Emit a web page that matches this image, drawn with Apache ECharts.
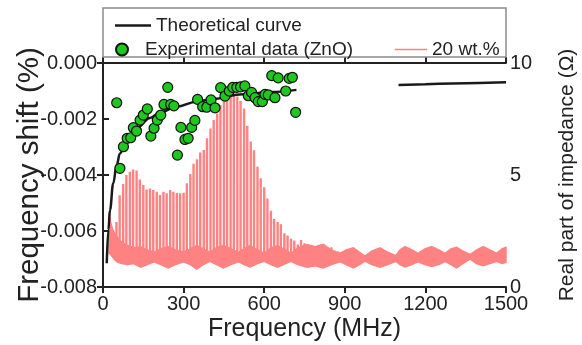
<!DOCTYPE html>
<html>
<head>
<meta charset="utf-8">
<script src="https://cdn.jsdelivr.net/npm/echarts@6/dist/echarts.min.js"></script>
<style>html,body{margin:0;padding:0;background:#fff}#c{width:582px;height:345px}</style>
</head>
<body>
<div id="c"></div>
<script>
// Theoretical curve (left axis, %)
const theoFreq1 = [14, 20, 26, 38, 51, 63, 88, 125, 175, 212, 274, 349, 409, 521, 620, 720];
const theoVal1 = [-0.00715, -0.00596, -0.00525, -0.0043, -0.00364, -0.00323, -0.00275, -0.00233, -0.00196, -0.00177, -0.00156, -0.00138, -0.00128, -0.00112, -0.00104, -0.00096];
const theoFreq2 = [1100, 1200, 1300, 1400, 1500];
const theoVal2 = [-0.00079, -0.00076, -0.00073, -0.00071, -0.00069];

// Experimental data (ZnO)
const expFreq = [63, 51, 76, 90, 103, 113, 125, 138, 150, 165, 178, 190, 202, 215, 227, 241, 252, 264, 277, 290, 305, 317, 330, 342, 352, 371, 386, 402, 417, 438, 454, 470, 483, 498, 512, 528, 541, 553, 566, 578, 593, 603, 615, 640, 628, 652, 680, 693, 705, 717];
const expVal = [-0.00376, -0.00142, -0.00299, -0.00269, -0.00267, -0.00231, -0.00243, -0.00204, -0.00186, -0.00164, -0.00261, -0.00233, -0.00204, -0.00186, -0.00148, -0.00087, -0.00148, -0.00153, -0.00329, -0.00230, -0.00273, -0.00269, -0.00230, -0.00205, -0.00130, -0.00156, -0.00158, -0.00132, -0.00160, -0.00088, -0.00118, -0.00100, -0.00087, -0.00087, -0.00085, -0.00082, -0.00117, -0.00105, -0.00124, -0.00138, -0.00138, -0.00112, -0.00114, -0.00124, -0.00045, -0.00053, -0.00100, -0.00055, -0.00051, -0.00176];

// 20 wt.% real part of impedance (right axis, Ohm): resonance spikes
const spikeFreq = [50,62,75,87,100,112,125,137,150,162,175,187,200,212,225,237,250,262,275,287,300,312,325,337,350,362,375,387,400,412,425,437,450,462,475,487,500,512,525,537,550,562,575,587,600,612,625,637,650,662,675,687,700,712,725,737,750,762,775,787,800,812,825,837,850,862,875,887];
const spikePeak = [2.9,4.1,4.6,5.0,5.15,5.25,5.2,4.8,4.55,4.35,4.4,4.33,4.25,4.11,4.25,4.18,4.33,4.25,4.2,4.18,4.21,4.63,5.04,5.5,5.7,6.0,6.12,6.64,7.08,7.46,7.75,8.12,8.35,8.42,8.5,8.53,8.5,8.3,7.97,7.2,6.5,6.1,5.37,4.85,4.45,3.95,3.4,3.05,2.9,2.8,2.4,2.3,2.15,2.08,1.9,2.1,1.95,1.77,1.78,1.73,1.73,1.9,1.73,1.68,1.77,1.62,1.58,1.55];
const spikeBase = 1.3;

// 20 wt.% noisy background band (lower / upper envelope)
const bandFreq = [23,28,35,45,55,70,90,115,140,165,190,215,243,270,300,325,349,373,398,423,448,476,504,525,547,575,600,625,650,680,700,725,760,790,820,850,882,905,932,955,975,1000,1031,1060,1090,1105,1124,1150,1173,1198,1223,1250,1273,1295,1316,1340,1366,1390,1415,1440,1465,1485,1500];
const bandLow = [1.5,1.45,1.35,1.2,1.1,1.05,1.0,1.05,0.88,1.0,1.13,1.0,0.85,1.0,1.13,1.0,0.8,1.0,1.15,1.0,0.85,1.0,1.13,1.0,0.9,1.05,1.15,1.0,0.88,1.05,1.15,1.0,0.88,0.95,0.85,1.0,1.13,1.0,0.85,1.0,1.16,1.0,0.88,1.0,1.15,1.0,0.9,1.0,1.13,1.0,0.92,1.0,1.15,1.0,0.85,1.05,1.25,1.05,0.95,1.05,1.15,1.05,1.1];
const bandHigh = [3.3,2.9,2.6,2.35,2.2,2.0,1.85,1.75,1.8,1.65,1.55,1.7,1.8,1.65,1.55,1.7,1.85,1.7,1.55,1.75,1.85,1.7,1.55,1.7,1.85,1.65,1.5,1.75,1.85,1.65,1.5,1.75,1.9,1.8,1.9,1.65,1.5,1.65,1.75,1.55,1.38,1.6,1.75,1.55,1.4,1.65,1.8,1.65,1.5,1.7,1.8,1.65,1.5,1.7,1.77,1.6,1.45,1.65,1.8,1.65,1.5,1.7,1.77];

const xTicks = [0, 300, 600, 900, 1200, 1500];

const FONT = 'Liberation Sans, Arial, sans-serif';
const TXT = '#222';
const PINK = '#ff8282';

const spikeData = [];
spikeFreq.forEach((f, i) => {
  spikeData.push([f, spikeBase], [f, spikePeak[i]], [f, spikeBase]);
});

const chart = echarts.init(document.getElementById('c'), null, {renderer: 'canvas'});
const axisLine = {show: true, lineStyle: {color: TXT, width: 2}};
const axisTick = {show: true, inside: true, length: 6, lineStyle: {color: TXT, width: 2}};

chart.setOption({
  animation: false,
  backgroundColor: '#fff',
  textStyle: {fontFamily: FONT},
  grid: {left: 103, right: 76, top: 63, bottom: 58, containLabel: false, outerBoundsMode: 'none'},
  graphic: [{
    type: 'rect', z: 100,
    shape: {x: 103, y: 8, width: 403, height: 49},
    style: {fill: 'rgba(0,0,0,0)', stroke: '#8c8c8c', lineWidth: 1.5}
  }],
  legend: [
    {data: ['Theoretical curve'], left: 110, top: 11, icon: 'rect', itemWidth: 36, itemHeight: 2.5,
     textStyle: {fontSize: 19, color: TXT, fontFamily: FONT}, z: 101},
    {data: ['Experimental data (ZnO)'], left: 110, top: 35, itemWidth: 36, itemHeight: 12,
     textStyle: {fontSize: 19, color: TXT, fontFamily: FONT}, z: 101},
    {data: ['20 wt.%'], left: 390, top: 35, icon: 'rect', itemWidth: 32, itemHeight: 1.5,
     textStyle: {fontSize: 19, color: TXT, fontFamily: FONT}, z: 101}
  ],
  xAxis: [
    {type: 'value', min: xTicks[0], max: xTicks[xTicks.length - 1], interval: 300, position: 'bottom',
     axisLine, axisTick, splitLine: {show: false},
     axisLabel: {fontSize: 20, color: TXT, margin: 7, fontFamily: FONT, formatter: v => String(v)},
     name: 'Frequency (MHz)', nameLocation: 'middle', nameGap: 30, nameMoveOverlap: false,
     nameTextStyle: {fontSize: 25, color: TXT, fontFamily: FONT}},
    {type: 'value', min: xTicks[0], max: xTicks[xTicks.length - 1], interval: 300, position: 'top',
     axisLine, axisTick, splitLine: {show: false}, axisLabel: {show: false}}
  ],
  yAxis: [
    {type: 'value', min: -0.008, max: 0, interval: 0.002, position: 'left',
     axisLine, axisTick, splitLine: {show: false},
     axisLabel: {fontSize: 20, color: TXT, margin: 6, fontFamily: FONT, formatter: v => v.toFixed(3)},
     name: 'Frequency shift (%)', nameLocation: 'middle', nameGap: 58, nameRotate: 90, nameMoveOverlap: false,
     nameTextStyle: {fontSize: 29.5, color: TXT, fontFamily: FONT}},
    {type: 'value', min: 0, max: 10, interval: 5, position: 'right',
     axisLine, axisTick, splitLine: {show: false},
     axisLabel: {fontSize: 20, color: TXT, margin: 4, fontFamily: FONT},
     name: 'Real part of impedance (\u03A9)', nameLocation: 'middle', nameGap: 51, nameRotate: 90, nameMoveOverlap: false,
     nameTextStyle: {fontSize: 21, color: TXT, fontFamily: FONT}}
  ],
  series: [
    {name: 'band', type: 'custom', xAxisIndex: 0, yAxisIndex: 1, z: 1,
     data: [[bandFreq[0], bandLow[0]]],
     renderItem: (params, api) => {
       const pts = [];
       bandFreq.forEach((f, i) => pts.push(api.coord([f, bandHigh[i]])));
       for (let i = bandFreq.length - 1; i >= 0; i--) pts.push(api.coord([bandFreq[i], bandLow[i]]));
       return {type: 'polygon', shape: {points: pts},
               style: {fill: PINK, stroke: PINK, lineWidth: 1.5}};
     }},
    {name: '20 wt.%', type: 'line', xAxisIndex: 0, yAxisIndex: 1, symbol: 'none',
     data: spikeData, lineStyle: {width: 2.4, color: PINK}, itemStyle: {color: PINK}, z: 2},
    {name: 'Theoretical curve', type: 'line', xAxisIndex: 0, yAxisIndex: 0, symbol: 'none',
     smooth: 0.4, smoothMonotone: 'x',
     data: theoFreq1.map((f, i) => [f, theoVal1[i]]),
     lineStyle: {width: 2.5, color: '#1a1a1a'}, itemStyle: {color: '#1a1a1a'}, z: 3},
    {name: 'Theoretical curve', type: 'line', xAxisIndex: 0, yAxisIndex: 0, symbol: 'none',
     smooth: 0.4,
     data: theoFreq2.map((f, i) => [f, theoVal2[i]]),
     lineStyle: {width: 2.5, color: '#1a1a1a'}, itemStyle: {color: '#1a1a1a'}, z: 3},
    {name: 'Experimental data (ZnO)', type: 'scatter', xAxisIndex: 0, yAxisIndex: 0,
     symbol: 'circle', symbolSize: 10,
     data: expFreq.map((f, i) => [f, expVal[i]]),
     itemStyle: {color: '#1ec81e', borderColor: '#111', borderWidth: 1.2, opacity: 1}, z: 4}
  ]
});
</script>
</body>
</html>
